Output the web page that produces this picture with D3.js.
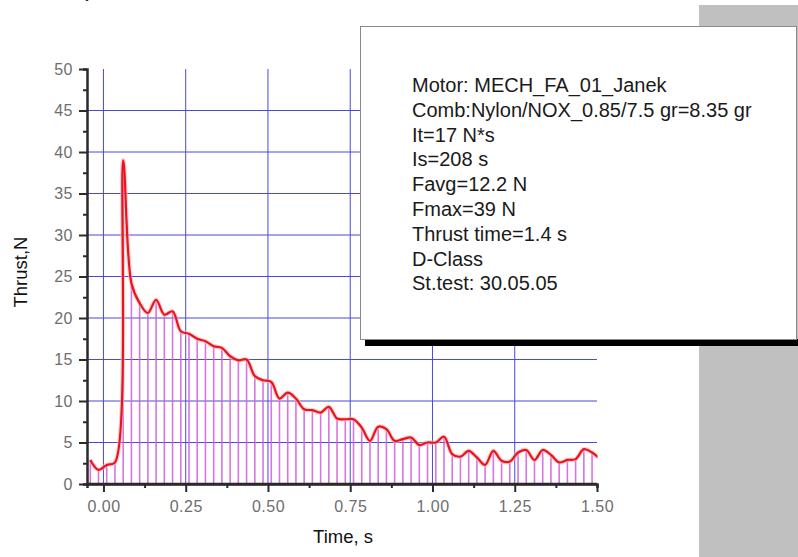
<!DOCTYPE html>
<html>
<head>
<meta charset="utf-8">
<script src="https://cdn.jsdelivr.net/npm/d3@7"></script>
<style>
  body { margin: 0; background: #fff; }
  svg { display: block; font-family: "Liberation Sans", Arial, sans-serif; }
</style>
</head>
<body>
<svg id="chart" width="798" height="557"></svg>
<script>
// thrust curve samples (s, N)
var times = [-0.04, -0.015, 0.01, 0.035, 0.06, 0.085, 0.11, 0.135, 0.16, 0.185,
  0.21, 0.235, 0.26, 0.285, 0.31, 0.335, 0.36, 0.385, 0.41, 0.435,
  0.46, 0.485, 0.51, 0.535, 0.56, 0.585, 0.61, 0.635, 0.66, 0.685,
  0.71, 0.735, 0.76, 0.785, 0.81, 0.835, 0.86, 0.885, 0.91, 0.935,
  0.96, 0.985, 1.01, 1.035, 1.06, 1.085, 1.11, 1.135, 1.16, 1.185,
  1.21, 1.235, 1.26, 1.285, 1.31, 1.335, 1.36, 1.385, 1.41, 1.435,
  1.46, 1.485, 1.51];
var thrust = [2.9, 1.7, 2.3, 2.6, 39.0, 24.2, 21.8, 20.6, 22.2, 20.4,
  20.8, 18.4, 18.1, 17.5, 17.2, 16.6, 16.4, 15.4, 14.9, 15.0,
  13.0, 12.5, 12.3, 10.3, 11.0, 10.3, 9.0, 8.9, 8.6, 9.3,
  7.9, 7.8, 7.8, 6.8, 5.2, 6.9, 6.6, 5.2, 5.4, 5.6,
  4.7, 5.0, 5.0, 5.7, 3.6, 3.3, 4.0, 3.2, 2.3, 4.0,
  2.8, 2.7, 3.8, 4.1, 2.9, 4.1, 3.5, 2.6, 2.9, 3.0,
  4.2, 3.8, 3.0];

var xTicks = [0, 0.25, 0.5, 0.75, 1.0, 1.25, 1.5];
var xMinor = [0.125, 0.375, 0.625, 0.875, 1.125, 1.375];
var yTicks = [0, 5, 10, 15, 20, 25, 30, 35, 40, 45, 50];
var yMinor = [2.5, 7.5, 12.5, 17.5, 22.5, 27.5, 32.5, 37.5, 42.5, 47.5];
var xGrid = [0, 0.25, 0.5, 0.75, 1.0, 1.25];
var yGrid = [5, 10, 15, 20, 25, 30, 35, 40, 45];

var notes = ["Motor: MECH_FA_01_Janek",
  "Comb:Nylon/NOX_0.85/7.5 gr=8.35 gr",
  "It=17 N*s",
  "Is=208 s",
  "Favg=12.2 N",
  "Fmax=39 N",
  "Thrust time=1.4 s",
  "D-Class",
  "St.test: 30.05.05"];

(function() {
  var svg = d3.select('#chart');
  var pLeft = 87, pRight = 597, pTop = 69, pBottom = 484;

  var x = d3.scaleLinear().domain([-0.05, 1.5]).range([pLeft, pRight]);
  var y = d3.scaleLinear().domain([0, 50]).range([pBottom, pTop]);

  var data = times.map(function(t, i) { return {t: t, v: thrust[i]}; });

  svg.append('defs').append('clipPath').attr('id', 'plotclip')
    .append('rect').attr('x', pLeft).attr('y', 0).attr('width', pRight - pLeft + 0.5).attr('height', pBottom + 1);

  // grid
  var grid = svg.append('g').attr('class', 'grid');
  grid.selectAll('.vg').data(xGrid).enter().append('line')
    .attr('x1', function(d) { return x(d); }).attr('x2', function(d) { return x(d); })
    .attr('y1', pTop).attr('y2', pBottom)
    .attr('stroke', '#4a4ad8').attr('stroke-width', 1);
  grid.selectAll('.hg').data(yGrid).enter().append('line')
    .attr('x1', pLeft).attr('x2', pRight)
    .attr('y1', function(d) { return y(d); }).attr('y2', function(d) { return y(d); })
    .attr('stroke', '#4a4ad8').attr('stroke-width', 1);

  var plot = svg.append('g').attr('clip-path', 'url(#plotclip)');

  // drop lines
  plot.selectAll('.drop').data(data).enter().append('line')
    .attr('class', 'drop')
    .attr('x1', function(d) { return x(d.t); }).attr('x2', function(d) { return x(d.t); })
    .attr('y1', y(0)).attr('y2', function(d) { return y(d.v); })
    .attr('stroke', '#d35cdc').attr('stroke-width', 1.6).attr('opacity', 0.85);

  var line = d3.line()
    .x(function(d) { return x(d.t); })
    .y(function(d) { return y(d.v); })
    .curve(d3.curveCatmullRom.alpha(0.5));

  plot.append('path').datum(data)
    .attr('d', line)
    .attr('fill', 'none')
    .attr('stroke', '#ffb0b0').attr('stroke-width', 4.5).attr('opacity', 0.6);
  plot.append('path').datum(data)
    .attr('d', line)
    .attr('fill', 'none')
    .attr('stroke', '#e8141e').attr('stroke-width', 2.2);

  // axes
  var xAxis = svg.append('g').attr('transform', 'translate(0,' + pBottom + ')')
    .call(d3.axisBottom(x).tickValues(xTicks).tickFormat(d3.format('.2f')).tickSize(8).tickPadding(9));
  svg.append('g').attr('transform', 'translate(0,' + pBottom + ')')
    .call(d3.axisBottom(x).tickValues(xMinor).tickFormat('').tickSize(4));
  var yAxis = svg.append('g').attr('transform', 'translate(' + pLeft + ',0)')
    .call(d3.axisLeft(y).tickValues(yTicks).tickSize(8).tickPadding(6));
  svg.append('g').attr('transform', 'translate(' + pLeft + ',0)')
    .call(d3.axisLeft(y).tickValues(yMinor).tickFormat('').tickSize(4));

  svg.selectAll('.domain').attr('stroke', '#2a2a2a').attr('stroke-width', 2.5);
  svg.selectAll('.tick line').attr('stroke', '#2a2a2a').attr('stroke-width', 2);
  svg.selectAll('.tick text')
    .attr('fill', '#6e6e6e')
    .style('font-size', '16px')
    .style('letter-spacing', '0.5px')
    .style('font-family', '"Liberation Sans", Arial, sans-serif');
  xAxis.select('.domain').attr('d', 'M' + pLeft + ',0H' + pRight);
  yAxis.select('.domain').attr('d', 'M0,1V' + (pTop - pBottom));

  // axis titles
  svg.append('text').text('Time, s')
    .attr('x', 343).attr('y', 543)
    .attr('text-anchor', 'middle')
    .attr('fill', '#111').style('font-size', '18.5px');
  svg.append('text').text('Thrust,N')
    .attr('transform', 'translate(27,272) rotate(-90)')
    .attr('text-anchor', 'middle')
    .attr('fill', '#111').style('font-size', '18.5px');

  // gray side panel
  svg.append('rect').attr('x', 699).attr('y', 5).attr('width', 99).attr('height', 552).attr('fill', '#c0c0c0');

  // notes box
  svg.append('rect').attr('x', 365).attr('y', 339).attr('width', 433).attr('height', 7).attr('fill', '#000');
  svg.append('rect').attr('x', 360.5).attr('y', 26.5).attr('width', 436).attr('height', 313)
    .attr('fill', '#fff').attr('stroke', '#8a8a8a').attr('stroke-width', 1);

  svg.append('g').selectAll('text').data(notes).enter().append('text')
    .attr('x', 412)
    .attr('y', function(d, i) { return 92 + i * 24.8; })
    .attr('fill', '#1a1a1a')
    .style('font-size', '20px')
    .text(function(d) { return d; });
})();
</script>
</body>
</html>
